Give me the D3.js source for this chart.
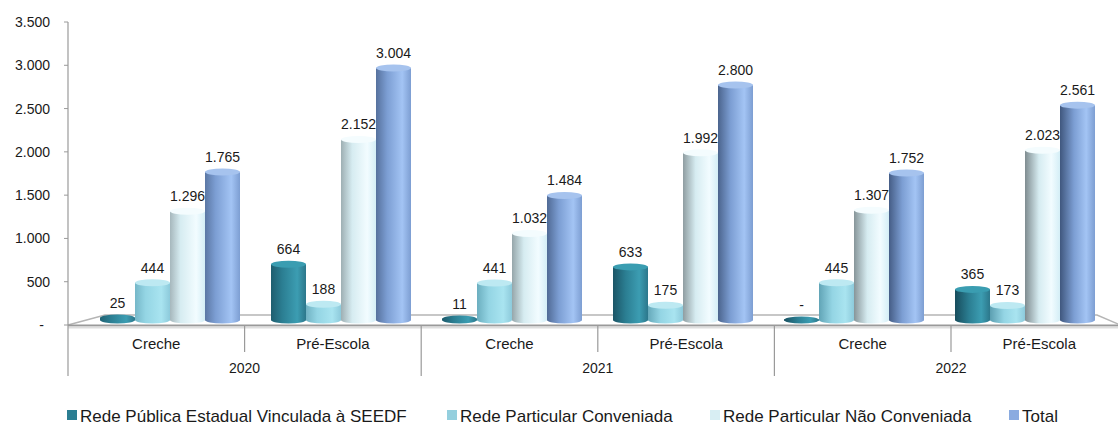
<!DOCTYPE html>
<html><head><meta charset="utf-8">
<script src="https://cdn.jsdelivr.net/npm/d3@7/dist/d3.min.js"></script>
<style>body{margin:0;background:#fff}svg{display:block;font-family:"Liberation Sans",Arial,sans-serif}</style>
</head><body><svg id="c" width="1118" height="426"></svg>
<script>
const years = ["2020","2021","2022"];
const stages = ["Creche","Pré-Escola"];
const seriesNames = ["Rede Pública Estadual Vinculada à SEEDF","Rede Particular Conveniada","Rede Particular Não Conveniada","Total"];
// values per category (year × stage), in series order
const publica     = [25, 664, 11, 633, 0, 365];
const conveniada  = [444, 188, 441, 175, 445, 173];
const naoConv     = [1296, 2152, 1032, 1992, 1307, 2023];
const total       = [1765, 3004, 1484, 2800, 1752, 2561];
const yTicks = [0,500,1000,1500,2000,2500,3000,3500];

const seriesValues = [publica, conveniada, naoConv, total];
const cats = [];
years.forEach(y => stages.forEach(s => cats.push({year:y, stage:s, key:y+"|"+s})));
const keys = cats.map(c=>c.key);

const svg = d3.select("#c");
const fmt = v => v===0 ? "-" : d3.format(",")(v).replace(/,/g,".");

// palettes: [dark-left, mid, light, right-edge, top]
const pal = [
  ["#174c5c","#2b7e92","#3c9db2","#2c778b","#3a9db1"],
  ["#5c9fb1","#94d5e4","#a9e4f0","#8dcadb","#bde9f2"],
  ["#7f8c90","#d6ecf1","#f2fcff","#d4eef6","#f4fcfe"],
  ["#40577e","#7c9ed3","#a3c4f4","#7d9ed2","#a6c3ee"]
];
const legendColors = ["#2b7e92","#94cfde","#d8eef3","#8aabe0"];

const defs = svg.append("defs");
seriesValues.forEach((vals,si)=>{
  keys.forEach((k,gi)=>{
    const t = gi/5;
    const p = pal[si];
    const left = d3.interpolateRgb(p[1], p[0])(0.55+0.45*t);
    const g = defs.append("linearGradient").attr("id",`g${si}_${gi}`).attr("x1","0").attr("x2","1").attr("y1","0").attr("y2","0");
    g.append("stop").attr("offset","0").attr("stop-color",left);
    g.append("stop").attr("offset",(0.3+0.1*t).toFixed(2)).attr("stop-color",p[1]);
    g.append("stop").attr("offset","0.75").attr("stop-color",p[2]);
    g.append("stop").attr("offset","1").attr("stop-color",p[3]);
  });
});

// axis scales (front plane)
const yAxis = d3.scaleLinear().domain([0,3500]).range([325,22]);
const xFront = d3.scaleBand().domain(keys).range([68, 68+6*176.6]).paddingInner(0).paddingOuter(0);
// bar scales (middle depth)
const yBar = d3.scaleLinear().domain([0,3500]).range([320, 320-3500*0.0839]);
const xBars = d3.scaleBand().domain(keys).range([84.5, 84.5+6*171]);
const xSeries = d3.scaleBand().domain(d3.range(4)).range([15.5,155.5]);

// floor
const floor = svg.append("g");
floor.append("path").attr("d","M68,325 L105,315 L1097,315 L1125,327")
  .attr("fill","none").attr("stroke","#b5b5b5").attr("stroke-width",1.5);
floor.append("line").attr("x1",68).attr("x2",1118).attr("y1",325.5).attr("y2",325.5)
  .attr("stroke","#9a9a9a").attr("stroke-width",2);
floor.append("line").attr("x1",68).attr("x2",1118).attr("y1",327.5).attr("y2",327.5)
  .attr("stroke","#dedede").attr("stroke-width",2);

// y axis
const ya = svg.append("g");
ya.append("line").attr("x1",68).attr("x2",68).attr("y1",yAxis(3500)).attr("y2",376).attr("stroke","#9a9a9a").attr("stroke-width",1.2);
yTicks.forEach(v=>{
  ya.append("line").attr("x1",64).attr("x2",68).attr("y1",yAxis(v)).attr("y2",yAxis(v)).attr("stroke","#9a9a9a");
  ya.append("text").attr("x", v===0?44:50).attr("y",yAxis(v)+5).attr("text-anchor","end")
    .attr("font-size",14).attr("fill","#1a1a1a").text(fmt(v));
});

// x axis (categories + years)
const xa = svg.append("g");
keys.forEach((k,i)=>{
  const x0 = xFront(k);
  if(i>0){
    const isYear = i%2===0;
    xa.append("line").attr("x1",x0).attr("x2",x0).attr("y1",326).attr("y2",isYear?376:352).attr("stroke","#9a9a9a").attr("stroke-width",1.2);
  }
  xa.append("text").attr("x",x0+xFront.bandwidth()/2).attr("y",349).attr("text-anchor","middle")
    .attr("font-size",15).attr("fill","#1a1a1a").text(cats[i].stage);
});
years.forEach((y,i)=>{
  const x0 = xFront(keys[i*2]);
  xa.append("text").attr("x",x0+xFront.bandwidth()).attr("y",373).attr("text-anchor","middle")
    .attr("font-size",14).attr("fill","#1a1a1a").text(y);
});

// bars (cylinders)
const bars = svg.append("g");
keys.forEach((k,gi)=>{
  seriesValues.forEach((vals,si)=>{
    const v = vals[gi];
    const x = xBars(k)+xSeries(si);
    const w = xSeries.bandwidth();
    const cx = x+w/2, rx = w/2, ry = 3.5;
    const yb = yBar(0), yt = yBar(v);
    const g = bars.append("g");
    g.append("ellipse").attr("cx",cx).attr("cy",yb).attr("rx",rx).attr("ry",ry).attr("fill",`url(#g${si}_${gi})`);
    g.append("rect").attr("x",x).attr("y",yt).attr("width",w).attr("height",Math.max(0,yb-yt)).attr("fill",`url(#g${si}_${gi})`);
    g.append("ellipse").attr("cx",cx).attr("cy",yt).attr("rx",rx).attr("ry",v===0?2.5:ry)
      .attr("fill", v<50 ? `url(#g${si}_${gi})` : pal[si][4]);
  });
});
// labels
const labels = svg.append("g");
keys.forEach((k,gi)=>{
  seriesValues.forEach((vals,si)=>{
    const v = vals[gi];
    const cx = xBars(k)+xSeries(si)+xSeries.bandwidth()/2;
    labels.append("text").attr("x",cx).attr("y",yBar(v)-10).attr("text-anchor","middle")
      .attr("font-size",14).attr("fill","#1a1a1a").text(fmt(v));
  });
});

// legend
const legX = [67, 447, 710, 1009];
const lg = svg.append("g");
seriesNames.forEach((n,i)=>{
  lg.append("rect").attr("x",legX[i]).attr("y",410).attr("width",10).attr("height",10).attr("fill",legendColors[i]);
  lg.append("text").attr("x",legX[i]+13).attr("y",421.5).attr("font-size",17).attr("fill","#1a1a1a").text(n);
});
</script></body></html>
